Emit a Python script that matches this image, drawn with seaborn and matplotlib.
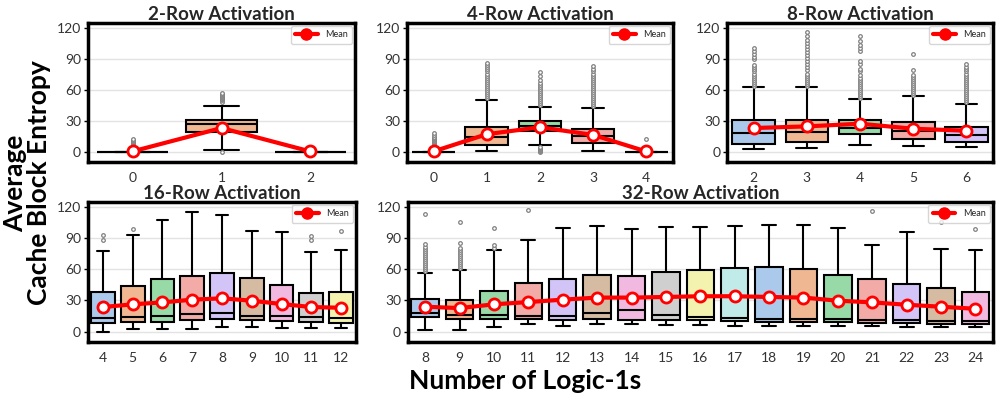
import seaborn as sns
import matplotlib.pyplot as plt
from matplotlib.lines import Line2D

# ---- data ----
# 2-Row activation
r2_x = [0, 1, 2]
r2_lo = [0, 1.9, 0]
r2_q1 = [0, 18.8, 0]
r2_med = [0, 26.9, 0]
r2_q3 = [0, 30.7, 0]
r2_hi = [0, 44.6, 0]
r2_mean = [0.3, 23.0, 0.2]
r2_fliers = [[3, 5, 6, 7, 8, 9, 10, 11, 12],
             [0, 48, 50, 51, 52, 53, 54, 55, 56, 57],
             []]

# 4-Row activation
r4_x = [0, 1, 2, 3, 4]
r4_lo = [0, 0.6, 6.8, 0.6, 0]
r4_q1 = [0, 6.8, 20.4, 8.4, 0]
r4_med = [0, 13.9, 24.9, 14.9, 0]
r4_q3 = [0, 24.2, 29.7, 22.3, 0]
r4_hi = [0, 50.4, 43.3, 42.0, 0]
r4_mean = [0.3, 17.0, 23.8, 16.3, 0.2]
r4_fliers = [[3, 5, 7, 8, 9, 10, 11, 12, 13, 14, 16, 18],
             [52, 54, 56, 58, 60, 62, 64, 66, 68, 70, 72, 74, 76, 78, 80, 82, 84, 86],
             [0, 1, 2, 3, 4, 5, 45, 47, 49, 51, 53, 55, 57, 59, 61, 63, 65, 67, 70, 74, 77],
             [44, 46, 48, 50, 52, 54, 56, 58, 60, 62, 64, 66, 68, 70, 72, 74, 76, 78, 80, 83],
             [12]]

# 8-Row activation
r8_x = [2, 3, 4, 5, 6]
r8_lo = [2.3, 3.9, 6.1, 5.1, 4.5]
r8_q1 = [7.8, 9.7, 17.1, 12.6, 9.4]
r8_med = [18.1, 18.8, 22.6, 19.7, 16.5]
r8_q3 = [30.4, 31.0, 31.0, 29.1, 24.2]
r8_hi = [63.0, 62.4, 51.1, 53.7, 46.6]
r8_mean = [23.0, 24.6, 27.2, 22.3, 20.4]
r8_fliers = [[64, 66, 68, 70, 72, 74, 76, 78, 80, 82, 84, 90, 92, 95, 98, 101],
             [64, 66, 68, 70, 72, 74, 76, 79, 82, 85, 88, 91, 94, 97, 100, 103, 106, 109, 112, 116],
             [52, 54, 56, 58, 60, 62, 64, 66, 68, 70, 72, 75, 78, 80, 85, 88, 98, 101, 104, 108, 112],
             [55, 57, 59, 61, 63, 65, 67, 69, 71, 73, 75, 79, 95],
             [48, 50, 52, 54, 56, 58, 60, 62, 64, 66, 68, 70, 72, 74, 76, 78, 80, 82, 85]]

# 16-Row activation
r16_x = [4, 5, 6, 7, 8, 9, 10, 11, 12]
r16_lo = [0, 2.6, 2.3, 2.9, 4.2, 4.2, 3.2, 3.2, 3.6]
r16_q1 = [8.1, 9.1, 9.4, 11.4, 12.0, 11.4, 10.7, 9.4, 8.4]
r16_med = [13.3, 14.3, 14.9, 17.2, 17.8, 15.2, 14.9, 14.3, 13.6]
r16_q3 = [38.3, 44.4, 50.6, 53.8, 56.1, 51.9, 45.1, 37.0, 38.3]
r16_hi = [77.8, 93.4, 108.0, 114.8, 111.9, 96.7, 96.3, 76.9, 78.5]
r16_mean = [23.7, 26.3, 28.2, 30.8, 32.1, 29.8, 26.6, 23.7, 23.0]
r16_fliers = [[88.5, 93], [98.9], [], [], [], [], [], [88.5, 91.8], [97.3]]

# 32-Row activation
r32_x = [8, 9, 10, 11, 12, 13, 14, 15, 16, 17, 18, 19, 20, 21, 22, 23, 24]
r32_lo = [1.6, 1.9, 4.2, 7.5, 5.8, 7.1, 7.1, 6.8, 6.5, 5.5, 5.2, 5.2, 5.2, 5.2, 4.9, 4.5, 4.5]
r32_q1 = [14.3, 12.0, 12.6, 11.7, 11.4, 12.0, 11.4, 11.4, 11.4, 10.7, 9.7, 9.4, 8.8, 8.4, 8.1, 7.5, 7.8]
r32_med = [17.8, 15.6, 15.6, 15.2, 14.9, 17.8, 20.8, 15.6, 14.3, 13.6, 12.3, 11.7, 11.7, 11.4, 11.0, 10.7, 10.7]
r32_q3 = [31.5, 30.8, 39.6, 47.0, 50.9, 54.5, 53.8, 57.1, 59.4, 61.3, 62.0, 60.3, 54.2, 50.3, 45.7, 42.2, 38.3]
r32_hi = [56.8, 59.0, 78.8, 88.2, 100.2, 102.2, 98.6, 100.6, 101.2, 102.2, 103.1, 102.5, 100.2, 83.0, 96.0, 80.1, 78.2]
r32_mean = [24.0, 22.7, 26.3, 28.5, 30.8, 32.8, 32.8, 33.4, 34.1, 34.1, 33.4, 32.8, 29.8, 28.2, 25.9, 24.0, 22.0]
r32_fliers = [[58, 60, 62, 64, 66, 68, 70, 72, 74, 76, 78, 80, 82, 84, 113],
              [61, 63, 65, 67, 69, 71, 73, 75, 77, 79, 81, 85, 106],
              [81, 83, 100], [117], [], [], [], [], [], [], [], [], [], [116], [], [106], [99]]

sns.set_theme(style="whitegrid")
plt.rcParams['font.family'] = ['Lato', 'DejaVu Sans']

pal = sns.color_palette("pastel", 10)


def draw_panel(ax, title, xs, lo, q1, med, q3, hi, mean, fliers):
    n = len(xs)
    stats = []
    for i in range(n):
        stats.append(dict(whislo=lo[i], q1=q1[i], med=med[i], q3=q3[i],
                          whishi=hi[i], fliers=fliers[i], label=str(xs[i])))
    bp = ax.bxp(stats, positions=list(range(n)), widths=0.8, capwidths=0.4,
                patch_artist=True, showfliers=True,
                boxprops=dict(edgecolor='black', linewidth=1.5),
                medianprops=dict(color='black', linewidth=1.5),
                whiskerprops=dict(color='black', linewidth=1.5),
                capprops=dict(color='black', linewidth=1.5),
                flierprops=dict(marker='o', markersize=2.6, markerfacecolor='white',
                                markeredgecolor='gray', markeredgewidth=0.9))
    for i, box in enumerate(bp['boxes']):
        box.set_facecolor(sns.desaturate(pal[i % 10], 0.75))

    # mean line on top of the boxes
    sns.lineplot(x=list(range(n)), y=mean, ax=ax, color='red', linewidth=3,
                 marker='o', markersize=8, markerfacecolor='white',
                 markeredgecolor='red', markeredgewidth=2, zorder=10)

    ax.set_xlim(-0.5, n - 0.5)
    ax.set_ylim(-10, 125)
    ax.set_yticks([0, 30, 60, 90, 120])
    ax.set_xticks(list(range(n)))
    ax.set_xticklabels([str(v) for v in xs])
    ax.set_title(title, fontsize=13.5, fontweight='bold', color='#262626', pad=2)
    ax.set_xlabel('')
    ax.set_ylabel('')
    ax.grid(axis='x', visible=False)
    ax.grid(axis='y', color='#e3e3e3', linewidth=1)
    ax.tick_params(axis='y', left=True, length=3, width=1, color='black',
                   labelsize=10, labelcolor='#333333', pad=2)
    ax.tick_params(axis='x', bottom=False, labelsize=10, labelcolor='#333333', pad=1.5)
    for sp in ax.spines.values():
        sp.set_color('black')
        sp.set_linewidth(2.5)

    proxy = Line2D([0], [0], color='red', linewidth=3, marker='o', markersize=8)
    ax.legend([proxy], ['Mean'], loc='upper right', fontsize=6.5, frameon=True,
              handlelength=2.5, borderaxespad=0.3, borderpad=0.5)


fig = plt.figure(figsize=(9.96, 3.98), dpi=100)

ax1 = fig.add_axes([0.0884, 0.593, 0.268, 0.349])
ax2 = fig.add_axes([0.4086, 0.593, 0.267, 0.349])
ax3 = fig.add_axes([0.730, 0.593, 0.267, 0.349])
ax4 = fig.add_axes([0.0884, 0.1407, 0.269, 0.352])
ax5 = fig.add_axes([0.4096, 0.1407, 0.587, 0.352])

draw_panel(ax1, '2-Row Activation', r2_x, r2_lo, r2_q1, r2_med, r2_q3, r2_hi, r2_mean, r2_fliers)
draw_panel(ax2, '4-Row Activation', r4_x, r4_lo, r4_q1, r4_med, r4_q3, r4_hi, r4_mean, r4_fliers)
draw_panel(ax3, '8-Row Activation', r8_x, r8_lo, r8_q1, r8_med, r8_q3, r8_hi, r8_mean, r8_fliers)
draw_panel(ax4, '16-Row Activation', r16_x, r16_lo, r16_q1, r16_med, r16_q3, r16_hi, r16_mean, r16_fliers)
draw_panel(ax5, '32-Row Activation', r32_x, r32_lo, r32_q1, r32_med, r32_q3, r32_hi, r32_mean, r32_fliers)

fig.text(0.027, 0.54, 'Average\nCache Block Entropy', rotation=90, ha='center', va='center',
         fontsize=19, fontweight='bold', color='black', linespacing=1.0)
fig.text(0.527, 0.043, 'Number of Logic-1s', ha='center', va='center',
         fontsize=19, fontweight='bold', color='black')

fig.savefig('out.png', dpi=100)
